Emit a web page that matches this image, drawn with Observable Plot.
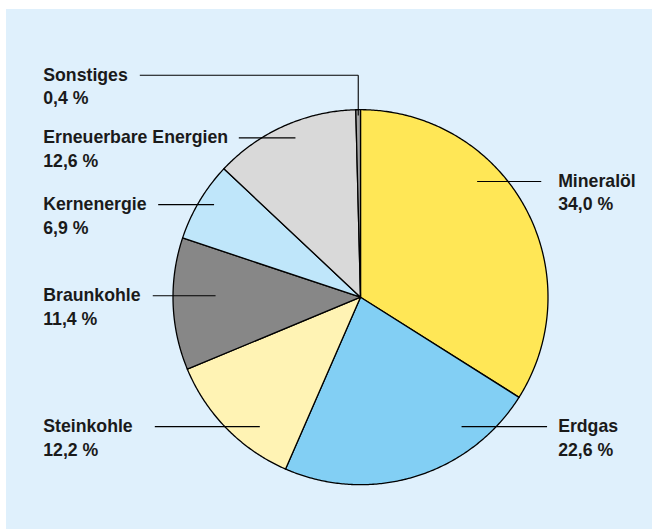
<!DOCTYPE html>
<html>
<head>
<meta charset="utf-8">
<script src="https://cdn.jsdelivr.net/npm/d3@7"></script>
<script src="https://cdn.jsdelivr.net/npm/@observablehq/plot@0.6"></script>
<style>
  html, body { margin: 0; padding: 0; background: #ffffff; }
  #wrap { position: relative; width: 652px; height: 529px; overflow: hidden; }
  #panel { position: absolute; left: 6px; top: 9px; right: 0; bottom: 0; background: #dff0fc; }
  #chart { position: absolute; left: 0; top: 0; }
</style>
</head>
<body>
<div id="wrap"><div id="panel"></div><div id="chart"></div></div>
<script>
// ---- data ----
const categories = ["Mineralöl", "Erdgas", "Steinkohle", "Braunkohle", "Kernenergie", "Erneuerbare Energien", "Sonstiges"];
const shares = [34.0, 22.6, 12.2, 11.4, 6.9, 12.6, 0.4];
const colors = ["#ffe756", "#82cff4", "#fff3b4", "#878787", "#bfe6fa", "#d9d9d9", "#a3a3a3"];

// ---- label layout (in pie-radius units, relative to centre) ----
const labelSide = ["right", "right", "left", "left", "left", "left", "left"];
const leaderY  = [0.617, -0.690, -0.690, 0.008, 0.494, 0.850, 1.184];
const leaderX1 = [0.622, 0.539, -1.097, -1.108, -1.079, -0.649, -1.177];
const leaderX2 = [0.964, 0.995, -0.537, -0.773, -0.781, -0.347, -0.012];
const leaderDrop = [null, null, null, null, null, null, 0.969];
const textXLeft = -1.692, textXRight = 1.054;

const fmt = v => v.toFixed(1).replace(".", ",") + " %";

const data = categories.map((name, i) => ({name, value: shares[i]}));
const arcs = d3.pie().sort(null).value(d => d.value).startAngle(0).endAngle(2 * Math.PI)(data);

// slice polygons
const slicePts = [];
arcs.forEach(a => {
  const name = a.data.name;
  slicePts.push({name, x: 0, y: 0});
  const n = Math.max(2, Math.ceil((a.endAngle - a.startAngle) / (Math.PI / 360)));
  for (let k = 0; k <= n; k++) {
    const t = a.startAngle + (a.endAngle - a.startAngle) * k / n;
    slicePts.push({name, x: Math.sin(t), y: Math.cos(t)});
  }
  slicePts.push({name, x: 0, y: 0});
});

// leader lines
const leaders = [];
categories.forEach((name, i) => {
  leaders.push({name, x1: leaderX1[i], x2: leaderX2[i], y1: leaderY[i], y2: leaderY[i]});
  if (leaderDrop[i] != null) leaders.push({name, x1: leaderX2[i], x2: leaderX2[i], y1: leaderY[i], y2: leaderDrop[i]});
});

const labels = categories.map((name, i) => ({
  name, value: fmt(shares[i]), y: leaderY[i],
  x: labelSide[i] === "left" ? textXLeft : textXRight
}));

const cx = 360, cy = 296.7, R = 187.5;
const font = "'Liberation Sans', Arial, sans-serif";

const chart = Plot.plot({
  width: 652,
  height: 529,
  margin: 0,
  style: {background: "transparent", overflow: "visible", fontFamily: font},
  x: {domain: [-1, 1], range: [cx - R, cx + R], axis: null},
  y: {domain: [-1, 1], range: [cy + R, cy - R], axis: null},
  color: {domain: categories, range: colors},
  marks: [
    Plot.line(slicePts, {x: "x", y: "y", z: "name", fill: "name", stroke: "#000", strokeWidth: 1.3, strokeLinejoin: "round", curve: "linear"}),
    Plot.link(leaders, {x1: "x1", y1: "y1", x2: "x2", y2: "y2", stroke: "#000", strokeWidth: 1.1}),
    Plot.text(labels, {x: "x", y: "y", text: "name", textAnchor: "start", lineAnchor: "middle", fontSize: 17.7, fontWeight: "bold", fill: "#1a1a1a"}),
    Plot.text(labels, {x: "x", y: "y", text: "value", textAnchor: "start", lineAnchor: "middle", dy: 23.3, fontSize: 17.7, fontWeight: "bold", fill: "#1a1a1a"})
  ]
});
document.getElementById("chart").appendChild(chart);
</script>
</body>
</html>
